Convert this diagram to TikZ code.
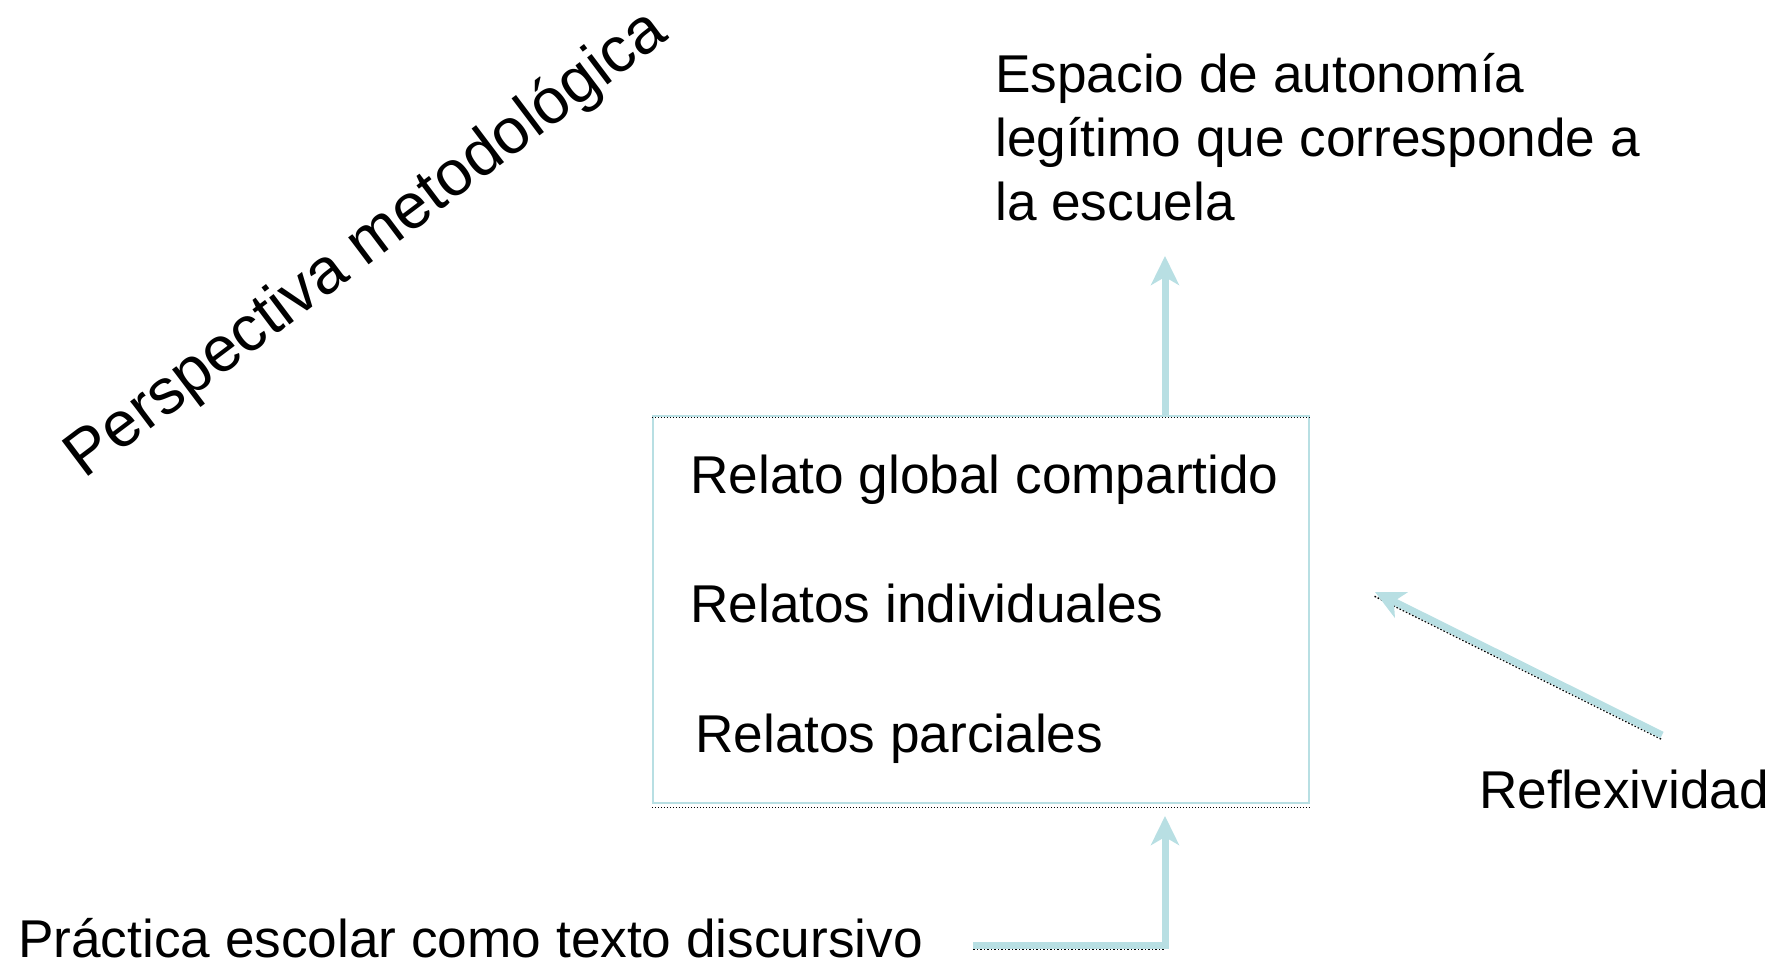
\documentclass[tikz,border=0pt]{standalone}
\usepackage{fontspec}
\setmainfont{Liberation Sans}
\usetikzlibrary{arrows.meta}
\definecolor{lblue}{RGB}{184,223,227}
\definecolor{shade}{RGB}{170,170,170}
\begin{document}
\begin{tikzpicture}[x=1pt,y=-1pt,
  txt/.style={inner sep=0pt, font=\fontsize{53.2}{64}\selectfont},
  bigarrow/.style={draw=lblue, line width=7pt, line join=miter,
    -{Stealth[length=29pt,width=28pt,inset=8pt]}},
  framebox/.style={draw=lblue, line width=2.5pt, inner sep=0pt}]
\useasboundingbox (0,0) rectangle (1783,963);

% rotated title
\node[txt, font=\fontsize{64}{72}\selectfont, rotate=37] (persp) at (367,245) {Perspectiva metodológica};

% top text
\node[txt, anchor=base west, align=left] (espacio) at (995,220)
  {Espacio de autonomía\\legítimo que corresponde a\\la escuela};

% box
\node[framebox, minimum width=656pt, minimum height=387pt] (box) at (981,609.5) {};
\node[txt, anchor=base west] (r1) at (690,493) {Relato global compartido};
\node[txt, anchor=base west] (r2) at (690,622) {Relatos individuales};
\node[txt, anchor=base west] (r3) at (695,752) {Relatos parciales};

% right label
\node[txt, anchor=base west] (refl) at (1479,808) {Reflexividad};

% bottom label
\node[txt, anchor=base west] (prac) at (18,957) {Práctica escolar como texto discursivo};

% coordinates
\coordinate (tipTop) at (1165,256);
\coordinate (tipBot) at (1165,816);
\coordinate (startBot) at (973,945);
\coordinate (tipRefl) at (1375,592);
\coordinate (startRefl) at (1662,735);

% shadows
\draw[shade, line width=1pt, dotted] ([yshift=-3pt]box.north west) -- ([yshift=-3pt]box.north east);
\draw[shade, line width=1pt, dotted] ([yshift=-3pt]box.south west) -- ([yshift=-3pt]box.south east);
\draw[shade, line width=1.5pt, dotted] ([shift={(0,4)}]startBot) -- ([shift={(0,4)}]startBot -| tipBot);
\draw[shade, line width=1.5pt, dotted] ([shift={(-1,4)}]startRefl) -- ([shift={(-1,4)}]tipRefl);

% arrows
\draw[bigarrow] (box.north -| tipTop) -- (tipTop);
\draw[bigarrow] (startBot) -- (startBot -| tipBot) -- (tipBot);
\draw[bigarrow] (startRefl) -- (tipRefl);
\end{tikzpicture}
\end{document}
